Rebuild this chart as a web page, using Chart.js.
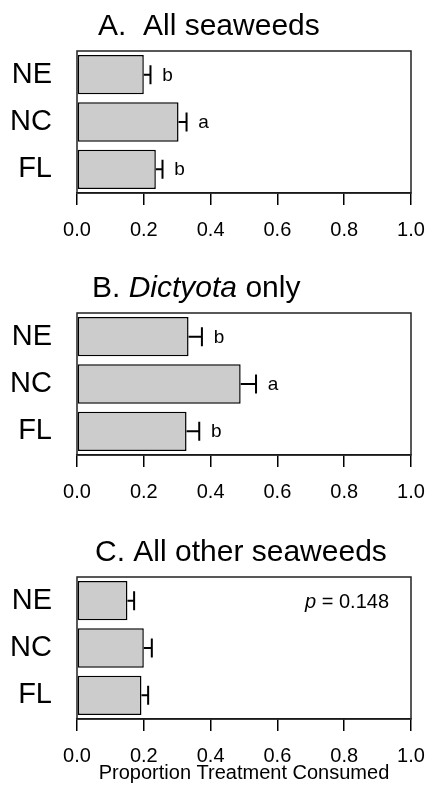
<!DOCTYPE html>
<html>
<head>
<meta charset="utf-8">
<script src="https://cdn.jsdelivr.net/npm/chart.js@4.4.0/dist/chart.umd.min.js"></script>
<style>
  body { margin: 0; background: #fff; width: 427px; height: 789px; position: relative; overflow: hidden; }
  canvas { position: absolute; left: 0; }
</style>
</head>
<body>
<canvas id="chartA" width="427" height="262" style="top:0px"></canvas>
<canvas id="chartB" width="427" height="264" style="top:262px"></canvas>
<canvas id="chartC" width="427" height="263" style="top:526px"></canvas>
<script>
const sites = ['NE', 'NC', 'FL'];
const xTicks = [0, 0.2, 0.4, 0.6, 0.8, 1.0];

// A. All seaweeds
const allMeans = [0.200, 0.304, 0.236];
const allErr = [0.020, 0.024, 0.020];
const allLetters = ['b', 'a', 'b'];

// B. Dictyota only
const dictyotaMeans = [0.334, 0.490, 0.328];
const dictyotaErr = [0.040, 0.046, 0.038];
const dictyotaLetters = ['b', 'a', 'b'];

// C. All other seaweeds
const otherMeans = [0.151, 0.200, 0.193];
const otherErr = [0.020, 0.024, 0.020];
const otherNote = 'p = 0.148';

const FONT = "'Liberation Sans', Arial, Helvetica, sans-serif";

function drawTitle(ctx, parts, x, y) {
  ctx.textAlign = 'left';
  ctx.textBaseline = 'alphabetic';
  ctx.fillStyle = '#000';
  parts.forEach(p => {
    ctx.font = (p.italic ? 'italic ' : '') + '30px ' + FONT;
    ctx.fillText(p.text, x, y);
    x += ctx.measureText(p.text).width;
  });
}

function extras(titleParts, titleX, errs, letters, note) {
  return {
    id: 'extras',
    afterDatasetsDraw(chart) {
      const { ctx, chartArea, scales: { x } } = chart;
      const vals = chart.data.datasets[0].data;
      const meta = chart.getDatasetMeta(0);
      ctx.save();
      ctx.strokeStyle = '#000';
      ctx.fillStyle = '#000';
      ctx.lineWidth = 2;
      meta.data.forEach((bar, i) => {
        const x0 = x.getPixelForValue(vals[i]);
        const x1 = x.getPixelForValue(vals[i] + errs[i]);
        ctx.beginPath();
        ctx.moveTo(x0, bar.y);
        ctx.lineTo(x1, bar.y);
        ctx.moveTo(x1, bar.y - 9.5);
        ctx.lineTo(x1, bar.y + 9.5);
        ctx.stroke();
        if (letters) {
          ctx.font = '19px ' + FONT;
          ctx.textAlign = 'center';
          ctx.textBaseline = 'alphabetic';
          ctx.fillText(letters[i], x1 + 17, bar.y + 6);
        }
      });
      // box round plot
      ctx.lineWidth = 1.5;
      ctx.strokeStyle = '#222';
      ctx.strokeRect(chartArea.left, chartArea.top, chartArea.width, chartArea.height);

      if (note) {
        const y0 = meta.data[0].y + 7.5;
        const right = chartArea.right - 22;
        ctx.textBaseline = 'alphabetic';
        ctx.textAlign = 'right';
        ctx.font = '20px ' + FONT;
        const rest = note.slice(1);
        ctx.fillText(rest, right, y0);
        const w = ctx.measureText(rest).width;
        ctx.font = 'italic 20px ' + FONT;
        ctx.fillText(note[0], right - w, y0);
      }
      drawTitle(ctx, titleParts, titleX, 35);
      ctx.restore();
    }
  };
}

function makePanel(id, means, axisTitle, plugin) {
  const canvas = document.getElementById(id);
  const h = canvas.height;
  return new Chart(canvas.getContext('2d'), {
    type: 'bar',
    data: {
      labels: sites,
      datasets: [{
        data: means,
        backgroundColor: '#cccccc',
        borderColor: '#000',
        borderWidth: 1.5,
        borderSkipped: false,
        barPercentage: 0.83,
        categoryPercentage: 1
      }]
    },
    options: {
      indexAxis: 'y',
      responsive: false,
      animation: false,
      layout: { padding: { top: 51, right: 16, left: 0, bottom: 0 } },
      plugins: { legend: { display: false }, tooltip: { enabled: false }, title: { display: false } },
      scales: {
        x: {
          min: 0, max: 1,
          afterBuildTicks: s => { s.ticks = xTicks.map(v => ({ value: v })); },
          afterFit: s => { s.height = h - 51 - 142; s.paddingLeft = 0; s.paddingRight = 0; },
          ticks: {
            color: '#000',
            font: { size: 20, family: FONT },
            padding: 13,
            maxRotation: 0,
            callback: v => Number(v).toFixed(1)
          },
          grid: { drawOnChartArea: false, drawTicks: true, tickLength: 12, color: '#000', lineWidth: 1.5 },
          border: { display: true, color: '#000', width: 1.5 },
          title: {
            display: !!axisTitle,
            text: axisTitle || '',
            color: '#000',
            font: { size: 20, family: FONT },
            padding: { top: 0, bottom: 4 }
          }
        },
        y: {
          afterFit: s => { s.width = 77; },
          ticks: { color: '#000', font: { size: 29, family: FONT }, padding: 25 },
          grid: { display: false, drawTicks: false },
          border: { display: false }
        }
      }
    },
    plugins: [plugin]
  });
}

makePanel('chartA', allMeans, null,
  extras([{ text: 'A.  All seaweeds' }], 98, allErr, allLetters, null));
makePanel('chartB', dictyotaMeans, null,
  extras([{ text: 'B. ' }, { text: 'Dictyota', italic: true }, { text: ' only' }], 92, dictyotaErr, dictyotaLetters, null));
makePanel('chartC', otherMeans, 'Proportion Treatment Consumed',
  extras([{ text: 'C. All other seaweeds' }], 95, otherErr, null, otherNote));
</script>
</body>
</html>
